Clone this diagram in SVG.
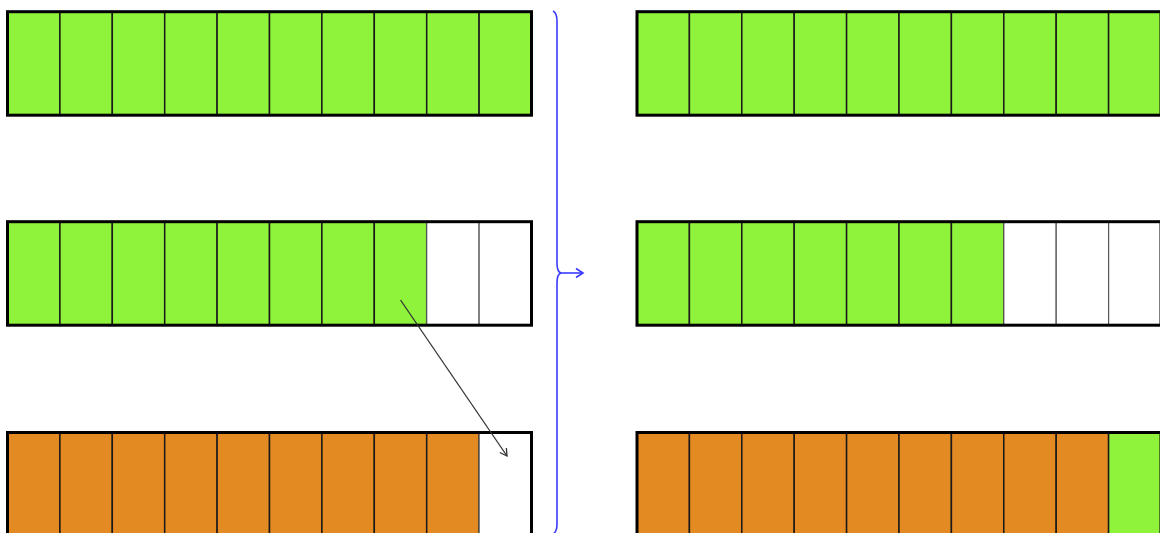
<svg xmlns="http://www.w3.org/2000/svg" width="1160" height="533" viewBox="0 0 1160 533">
<style>
.g{fill:#8FF23B;stroke:#1a1a1a;stroke-width:1.5}
.o{fill:#E38A22;stroke:#1a1a1a;stroke-width:1.5}
.w{fill:#ffffff;stroke:#555;stroke-width:1.2}
.frame{fill:none;stroke:#000;stroke-width:3}
.brace{fill:none;stroke:#3a3aff;stroke-width:1.6}
.arr{fill:none;stroke:#333;stroke-width:1.3}
</style>
<defs>
<marker id="ah" markerWidth="10" markerHeight="10" refX="8" refY="5" orient="auto" markerUnits="userSpaceOnUse">
<path d="M1,1 L8,5 L1,9" fill="none" stroke="#333" stroke-width="1.3"/>
</marker>
<marker id="ahb" markerWidth="12" markerHeight="12" refX="9" refY="6" orient="auto" markerUnits="userSpaceOnUse">
<path d="M2,1.5 L9,6 L2,10.5" fill="none" stroke="#3a3aff" stroke-width="1.6"/>
</marker>
</defs>
<!-- Left top -->
<g id="left-top">
<rect class="g" x="7.5" y="11.7" width="52.4" height="103.5"/>
<rect class="g" x="59.9" y="11.7" width="52.4" height="103.5"/>
<rect class="g" x="112.3" y="11.7" width="52.4" height="103.5"/>
<rect class="g" x="164.7" y="11.7" width="52.4" height="103.5"/>
<rect class="g" x="217.1" y="11.7" width="52.4" height="103.5"/>
<rect class="g" x="269.5" y="11.7" width="52.4" height="103.5"/>
<rect class="g" x="321.9" y="11.7" width="52.4" height="103.5"/>
<rect class="g" x="374.3" y="11.7" width="52.4" height="103.5"/>
<rect class="g" x="426.7" y="11.7" width="52.4" height="103.5"/>
<rect class="g" x="479.1" y="11.7" width="52.4" height="103.5"/>
<rect class="frame" x="7.5" y="11.7" width="524" height="103.5"/>
</g>
<g id="left-middle">
<rect class="g" x="7.5" y="221.7" width="52.4" height="103.5"/>
<rect class="g" x="59.9" y="221.7" width="52.4" height="103.5"/>
<rect class="g" x="112.3" y="221.7" width="52.4" height="103.5"/>
<rect class="g" x="164.7" y="221.7" width="52.4" height="103.5"/>
<rect class="g" x="217.1" y="221.7" width="52.4" height="103.5"/>
<rect class="g" x="269.5" y="221.7" width="52.4" height="103.5"/>
<rect class="g" x="321.9" y="221.7" width="52.4" height="103.5"/>
<rect class="g" x="374.3" y="221.7" width="52.4" height="103.5"/>
<rect class="w" x="426.7" y="221.7" width="52.4" height="103.5"/>
<rect class="w" x="479.1" y="221.7" width="52.4" height="103.5"/>
<rect class="frame" x="7.5" y="221.7" width="524" height="103.5"/>
</g>
<g id="left-bottom">
<rect class="o" x="7.5" y="432.5" width="52.4" height="103.5"/>
<rect class="o" x="59.9" y="432.5" width="52.4" height="103.5"/>
<rect class="o" x="112.3" y="432.5" width="52.4" height="103.5"/>
<rect class="o" x="164.7" y="432.5" width="52.4" height="103.5"/>
<rect class="o" x="217.1" y="432.5" width="52.4" height="103.5"/>
<rect class="o" x="269.5" y="432.5" width="52.4" height="103.5"/>
<rect class="o" x="321.9" y="432.5" width="52.4" height="103.5"/>
<rect class="o" x="374.3" y="432.5" width="52.4" height="103.5"/>
<rect class="o" x="426.7" y="432.5" width="52.4" height="103.5"/>
<rect class="w" x="479.1" y="432.5" width="52.4" height="103.5"/>
<rect class="frame" x="7.5" y="432.5" width="524" height="103.5"/>
</g>
<g id="right-top">
<rect class="g" x="637" y="11.7" width="52.4" height="103.5"/>
<rect class="g" x="689.4" y="11.7" width="52.4" height="103.5"/>
<rect class="g" x="741.8" y="11.7" width="52.4" height="103.5"/>
<rect class="g" x="794.2" y="11.7" width="52.4" height="103.5"/>
<rect class="g" x="846.6" y="11.7" width="52.4" height="103.5"/>
<rect class="g" x="899" y="11.7" width="52.4" height="103.5"/>
<rect class="g" x="951.4" y="11.7" width="52.4" height="103.5"/>
<rect class="g" x="1003.8" y="11.7" width="52.4" height="103.5"/>
<rect class="g" x="1056.2" y="11.7" width="52.4" height="103.5"/>
<rect class="g" x="1108.6" y="11.7" width="52.4" height="103.5"/>
<rect class="frame" x="637" y="11.7" width="524" height="103.5"/>
</g>
<g id="right-middle">
<rect class="g" x="637" y="221.7" width="52.4" height="103.5"/>
<rect class="g" x="689.4" y="221.7" width="52.4" height="103.5"/>
<rect class="g" x="741.8" y="221.7" width="52.4" height="103.5"/>
<rect class="g" x="794.2" y="221.7" width="52.4" height="103.5"/>
<rect class="g" x="846.6" y="221.7" width="52.4" height="103.5"/>
<rect class="g" x="899" y="221.7" width="52.4" height="103.5"/>
<rect class="g" x="951.4" y="221.7" width="52.4" height="103.5"/>
<rect class="w" x="1003.8" y="221.7" width="52.4" height="103.5"/>
<rect class="w" x="1056.2" y="221.7" width="52.4" height="103.5"/>
<rect class="w" x="1108.6" y="221.7" width="52.4" height="103.5"/>
<rect class="frame" x="637" y="221.7" width="524" height="103.5"/>
</g>
<g id="right-bottom">
<rect class="o" x="637" y="432.5" width="52.4" height="103.5"/>
<rect class="o" x="689.4" y="432.5" width="52.4" height="103.5"/>
<rect class="o" x="741.8" y="432.5" width="52.4" height="103.5"/>
<rect class="o" x="794.2" y="432.5" width="52.4" height="103.5"/>
<rect class="o" x="846.6" y="432.5" width="52.4" height="103.5"/>
<rect class="o" x="899" y="432.5" width="52.4" height="103.5"/>
<rect class="o" x="951.4" y="432.5" width="52.4" height="103.5"/>
<rect class="o" x="1003.8" y="432.5" width="52.4" height="103.5"/>
<rect class="o" x="1056.2" y="432.5" width="52.4" height="103.5"/>
<rect class="g" x="1108.6" y="432.5" width="52.4" height="103.5"/>
<rect class="frame" x="637" y="432.5" width="524" height="103.5"/>
</g>
<g id="connectors">
<path class="brace" d="M553,11 Q557,13 557,21 L557,263 Q557,272 561,273 Q557,274 557,283 L557,524 Q557,532 553,534"/>
<line class="brace" x1="561" y1="273" x2="583" y2="273" marker-end="url(#ahb)"/>
<line class="arr" x1="400.5" y1="300" x2="507" y2="456" marker-end="url(#ah)"/>
</g>
</svg>
